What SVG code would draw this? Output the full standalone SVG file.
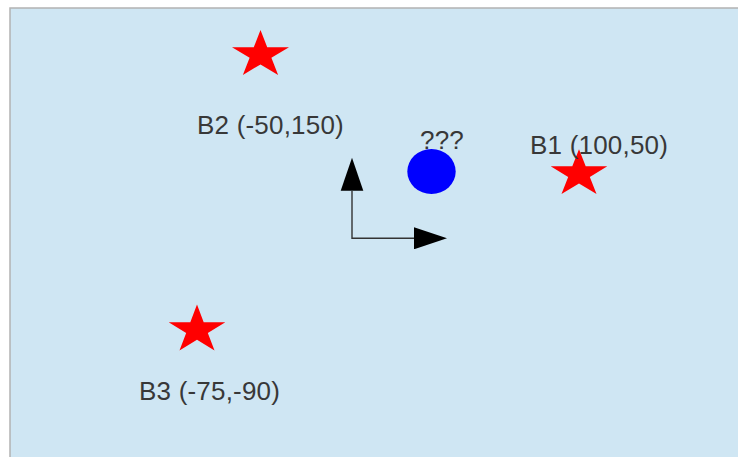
<svg xmlns="http://www.w3.org/2000/svg" width="738" height="457" viewBox="0 0 738 457">
<style>
.lbl{font-family:"Liberation Sans",Arial,sans-serif;font-size:26px;letter-spacing:0.2px;fill:#383838}
.star{fill:#ff0000}
.ax{stroke:#333333;stroke-width:1.4;fill:none}
</style>
<defs>
<path id="starShape" d="M0,-1 L0.2245,-0.309 L0.951,-0.309 L0.363,0.118 L0.588,0.809 L0,0.382 L-0.588,0.809 L-0.363,0.118 L-0.951,-0.309 L-0.2245,-0.309 Z"/>
<marker id="tri" viewBox="0 0 33 22" refX="0" refY="11" markerWidth="33" markerHeight="22" markerUnits="userSpaceOnUse" orient="auto">
<path d="M0,0 L33,11 L0,22 Z" fill="#000000"/>
</marker>
</defs>
<rect id="background" x="10" y="8" width="740" height="460" fill="#cfe6f3" stroke="#b3b3b3" stroke-width="1.5"/>
<g id="connectors">
<path class="ax" d="M352,191 L352,238.3 L414,238.3" marker-end="url(#tri)"/>
<path d="M340.7,190.7 L363.3,190.7 L352,157.7 Z" fill="#000000"/>
</g>
<g id="B2">
<use href="#starShape" class="star" transform="translate(260.5,54.9) scale(29.97,24.88)"/>
<text class="lbl" x="197" y="133.5">B2 (-50,150)</text>
</g>
<g id="B1">
<use href="#starShape" class="star" transform="translate(579,174) scale(29.8,24.7)"/>
<text class="lbl" x="530" y="153.5">B1 (100,50)</text>
</g>
<g id="B3">
<use href="#starShape" class="star" transform="translate(197,330) scale(29.8,25.4)"/>
<text class="lbl" x="139" y="400">B3 (-75,-90)</text>
</g>
<g id="unknown">
<text class="lbl" x="420" y="148.5">???</text>
<ellipse cx="431.5" cy="171.5" rx="24.2" ry="22.5" fill="#0000ff"/>
</g>
</svg>
